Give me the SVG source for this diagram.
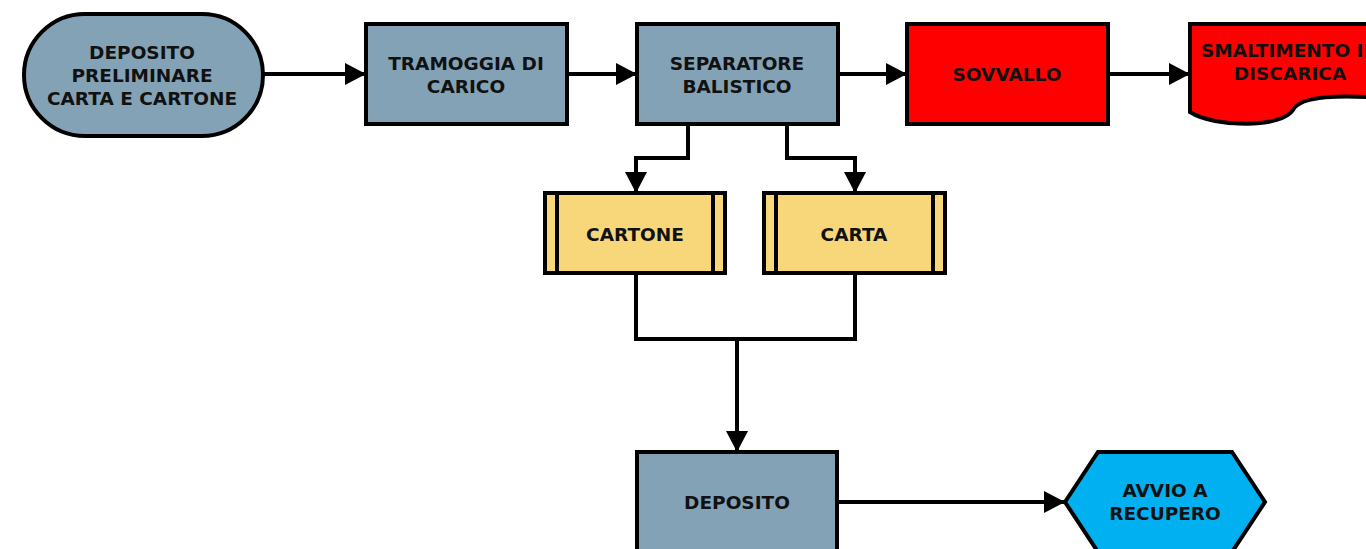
<svg xmlns="http://www.w3.org/2000/svg" width="1366" height="549" viewBox="0 0 1366 549">
<defs>
<style>
.t{font-family:"DejaVu Sans","Liberation Sans",sans-serif;font-weight:bold;font-size:18.5px;fill:#111;text-anchor:middle}
.b{stroke:#000;stroke-width:4}
.g{fill:#84A2B6}
.y{fill:#F7D77A}
.r{fill:#FF0000}
.c{fill:#00B0F0}
.cn{fill:none;stroke:#000;stroke-width:4}
</style>
<marker id="ah" markerUnits="userSpaceOnUse" markerWidth="22" markerHeight="22" viewBox="0 0 22 22" refX="21" refY="11" orient="auto">
<path d="M0,0 L21,11 L0,22 z" fill="#000"/>
</marker>
</defs>
<rect width="1366" height="549" fill="#fff"/>
<g id="connectors">
<path class="cn" d="M263,74 H366" marker-end="url(#ah)"/>
<path class="cn" d="M567,74 H637" marker-end="url(#ah)"/>
<path class="cn" d="M838,74 H907" marker-end="url(#ah)"/>
<path class="cn" d="M1108,74 H1190" marker-end="url(#ah)"/>
<path class="cn" d="M688,124 V158 H636 V193" marker-end="url(#ah)"/>
<path class="cn" d="M787,124 V158 H855 V193" marker-end="url(#ah)"/>
<path class="cn" d="M636,273 V339 H855 V273"/>
<path class="cn" d="M737,339 V452" marker-end="url(#ah)"/>
<path class="cn" d="M837,502 H1065" marker-end="url(#ah)"/>
</g>
<g id="n-deposito-preliminare">
<rect class="b g" x="24" y="14" width="239" height="122" rx="61" ry="61"/>
<text class="t" x="142" y="59">DEPOSITO</text>
<text class="t" x="142" y="82">PRELIMINARE</text>
<text class="t" x="142" y="105">CARTA E CARTONE</text>
</g>
<g id="n-tramoggia">
<rect class="b g" x="366" y="24" width="201" height="100"/>
<text class="t" x="466" y="70">TRAMOGGIA DI</text>
<text class="t" x="466" y="93">CARICO</text>
</g>
<g id="n-separatore">
<rect class="b g" x="637" y="24" width="201" height="100"/>
<text class="t" x="737" y="70">SEPARATORE</text>
<text class="t" x="737" y="93">BALISTICO</text>
</g>
<g id="n-sovvallo">
<rect class="b r" x="907" y="24" width="201" height="100"/>
<text class="t" x="1007" y="81">SOVVALLO</text>
</g>
<g id="n-smaltimento">
<path class="b r" d="M1190,24 H1392 V99 C1340,94 1300,96 1293,110 C1282,128 1215,128 1190,112 Z"/>
<text class="t" x="1290" y="57">SMALTIMENTO IN</text>
<text class="t" x="1290" y="80">DISCARICA</text>
</g>
<g id="n-cartone">
<rect class="b y" x="545" y="193" width="180" height="80"/>
<path class="b" d="M557,193 V273 M713,193 V273"/>
<text class="t" x="635" y="241">CARTONE</text>
</g>
<g id="n-carta">
<rect class="b y" x="764" y="193" width="181" height="80"/>
<path class="b" d="M776,193 V273 M933,193 V273"/>
<text class="t" x="854" y="241">CARTA</text>
</g>
<g id="n-deposito">
<rect class="b g" x="637" y="452" width="200" height="104"/>
<text class="t" x="737" y="509">DEPOSITO</text>
</g>
<g id="n-avvio">
<path class="b c" d="M1065,502 L1098,452 H1232 L1265,502 L1232,552 H1098 Z"/>
<text class="t" x="1165" y="497">AVVIO A</text>
<text class="t" x="1165" y="520">RECUPERO</text>
</g>
</svg>
